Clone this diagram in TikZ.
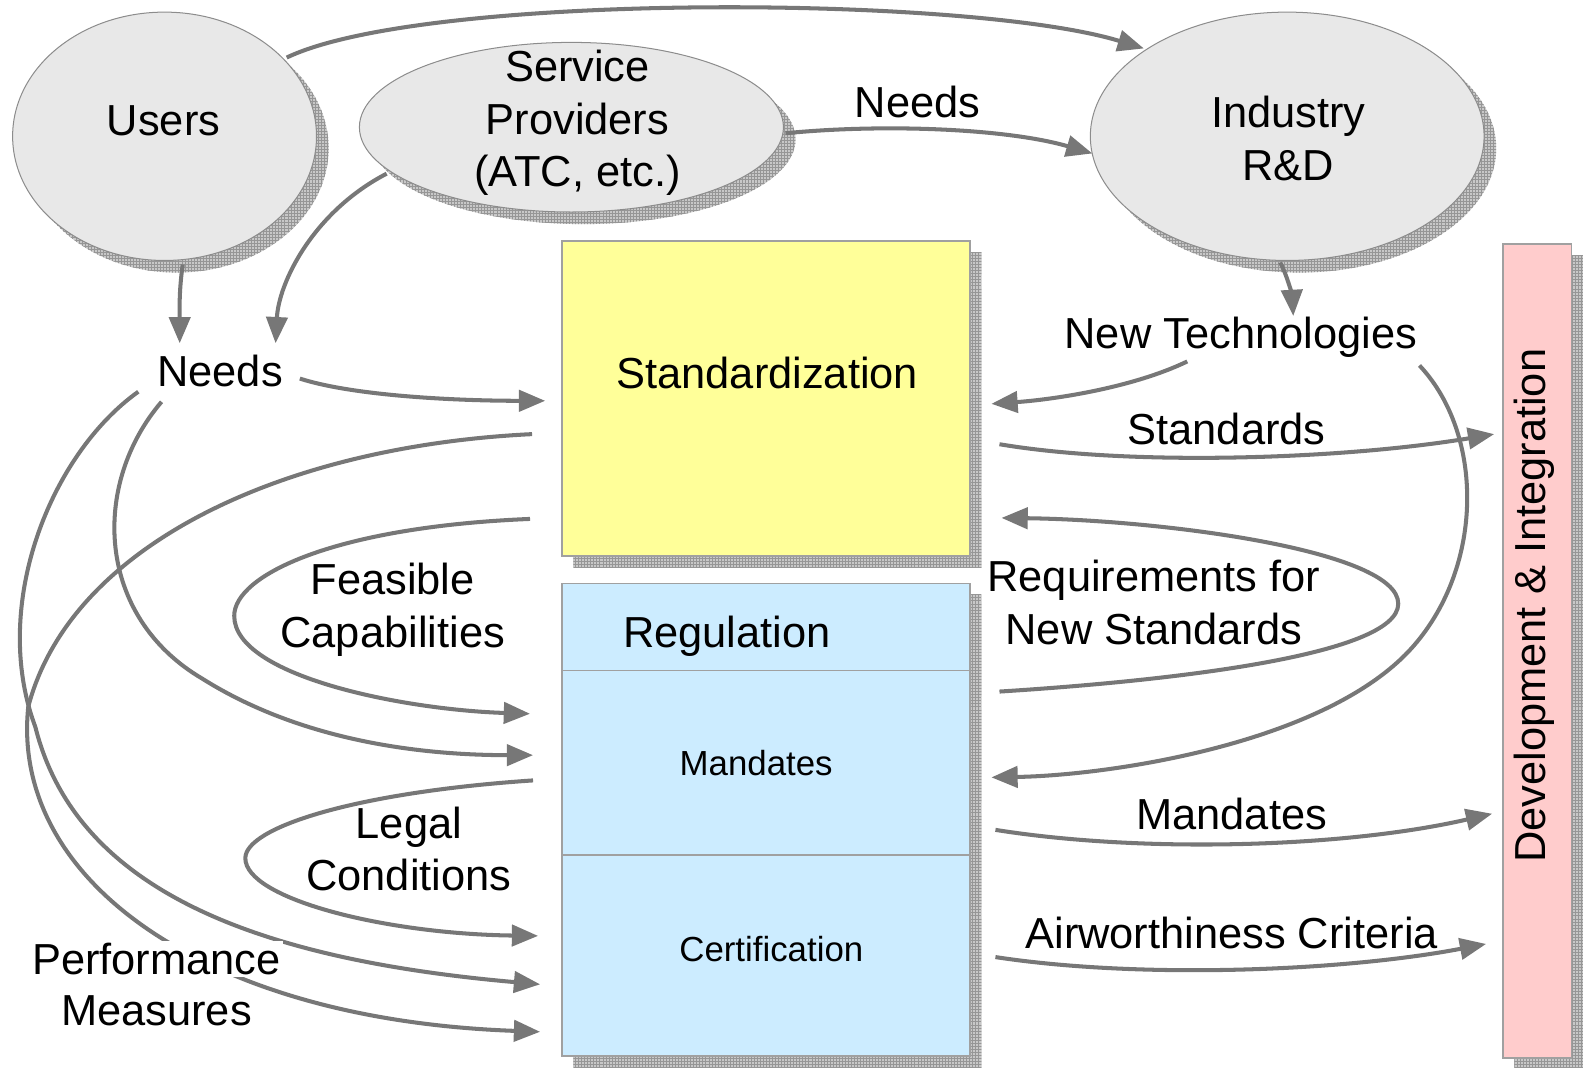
\documentclass[tikz,border=0pt]{standalone}
\usepackage{fontspec}
\setmainfont{Liberation Sans}
\usetikzlibrary{arrows.meta,shapes.geometric,patterns}
\definecolor{arrgray}{RGB}{119,119,119}
\definecolor{ellfill}{RGB}{232,232,232}
\definecolor{ellline}{RGB}{140,140,140}
\definecolor{boxline}{RGB}{160,160,160}
\definecolor{stdyellow}{RGB}{255,255,153}
\definecolor{regblue}{RGB}{204,236,255}
\definecolor{devpink}{RGB}{255,204,204}
\definecolor{shdfill}{RGB}{200,200,200}
\definecolor{shdgrid}{RGB}{150,150,150}
\begin{document}
\begin{tikzpicture}[x=1pt,y=-1pt,
  arr/.style={draw=arrgray, line width=4pt, -{Triangle[length=26pt,width=21pt]}},
  shd/.style={fill=shdfill, postaction={pattern=grid, pattern color=shdgrid}},
  ell/.style={ellipse, draw=ellline, line width=1pt, fill=ellfill, inner sep=0pt},
  box/.style={rectangle, draw=boxline, line width=1.5pt, inner sep=0pt, anchor=north west},
  big/.style={font=\fontsize{43}{52}\selectfont, inner sep=0pt, align=center},
  small/.style={font=\fontsize{34.5}{42}\selectfont, inner sep=0pt, align=center}]
\useasboundingbox (0,0) rectangle (1568,1057);

% shadows
\path[shd] (175,147) ellipse [x radius=150.5pt, y radius=123pt];
\path[shd] (578,138) ellipse [x radius=210pt, y radius=84pt];
\path[shd] (1287,147) ellipse [x radius=195pt, y radius=123pt];
\path[shd] (568,250) rectangle (972,562);
\path[shd] (568,589) rectangle (972,1057);
\path[shd] (1500,253) rectangle (1568,1057);

% ellipses
\node[ell, minimum width=301pt, minimum height=246pt] (users) at (163,135) {};
\node[ell, minimum width=420pt, minimum height=168pt] (sp) at (566,126) {};
\node[ell, minimum width=390pt, minimum height=246pt] (ind) at (1275,135) {};

% boxes
\node[box, fill=stdyellow, minimum width=404pt, minimum height=312pt] (std) at (556,238) {};
\node[box, fill=regblue, minimum width=404pt, minimum height=468pt] (reg) at (556,577) {};
\draw[draw=boxline, line width=1.5pt] (reg.west |- 0,664) coordinate (d1) -- (reg.east |- 0,664) coordinate (d2);
\draw[draw=boxline, line width=1.5pt] (reg.west |- 0,847) coordinate (d3) -- (reg.east |- 0,847) coordinate (d4);
\node[box, fill=devpink, minimum width=68pt, minimum height=806pt] (dev) at (1488,241) {};

% texts in shapes
\node[big] (tusers) at (162,120) {Users};
\node[big] (tsp) at (572,122) {Service\\Providers\\(ATC, etc.)};
\node[big] (tind) at (1276,137) {Industry\\R\&D};
\node[big] (tstd) at (760,369) {Standardization};
\node[big] (treg) at (720,630) {Regulation};
\node[small] (tman) at (749,756) {Mandates};
\node[small] (tcert) at (764,940) {Certification};
\node[big, rotate=90] (tdev) at (1520,600) {Development \& Integration};

% free labels
\node[big] (needsTop) at (909,101) {Needs};
\node[big] (needs) at (218,367) {Needs};
\node[big] (newtech) at (1229,334) {New Technologies};
\node[big] (lstd) at (1215,425) {Standards};
\node[big] (lreq) at (1143,597) {Requirements for\\New Standards};
\node[big] (lman) at (1220,806) {Mandates};
\node[big] (lair) at (1220,924) {Airworthiness Criteria};
\node[big] (lfeas) at (389,604) {Feasible\\Capabilities};
\node[big] (llegal) at (405,841) {Legal\\Conditions};

% connector end points
\coordinate (u1) at (284,57);
\coordinate (i1) at (1133,48);
\coordinate (sp1) at (778,132);
\coordinate (i2) at (1082,152);
\coordinate (u2) at (181,262);
\coordinate (n1) at (178,340);
\coordinate (sp2) at (383,172);
\coordinate (n2) at (273,340);
\coordinate (i3) at (1268,260);
\coordinate (nt1) at (1281,313);
\coordinate (n3) at (297,375);
\coordinate (s1) at (540,397);
\coordinate (nt2) at (1176,358);
\coordinate (s2) at (982,400);
\coordinate (s3) at (990,440);
\coordinate (dv1) at (1480,430);
\coordinate (nt3) at (1406,362);
\coordinate (m1) at (982,770);
\coordinate (r1) at (990,685);
\coordinate (s4) at (992,513);
\coordinate (m2) at (986,822);
\coordinate (dv2) at (1478,806);
\coordinate (c1) at (986,948);
\coordinate (dv3) at (1472,935);
\coordinate (s5) at (525,514);
\coordinate (r2) at (525,707);
\coordinate (n4) at (160,398);
\coordinate (m3) at (528,748);
\coordinate (m4) at (528,773);
\coordinate (c2) at (533,927);
\coordinate (n5) at (137,388);
\coordinate (c3) at (535,975);
\coordinate (s6) at (527,430);
\coordinate (c4) at (535,1022);

% connectors
\draw[arr] (u1) .. controls (420,-8) and (960,-5) .. (i1);
\draw[arr] (sp1) .. controls (880,122) and (1000,128) .. (i2);
\draw[arr] (u2) .. controls (177,290) and (178,310) .. (n1);
\draw[arr] (sp2) .. controls (310,210) and (276,280) .. (n2);
\draw[arr] (i3) .. controls (1276,275) and (1280,295) .. (nt1);
\draw[arr] (n3) .. controls (350,392) and (450,397) .. (s1);
\draw[arr] (nt2) .. controls (1120,385) and (1040,396) .. (s2);
\draw[arr] (s3) .. controls (1120,462) and (1330,455) .. (dv1);
\draw[arr] (nt3) .. controls (1470,430) and (1470,560) .. (1400,640) .. controls (1316,736) and (1100,768) .. (m1);
\draw[arr] (r1) .. controls (1150,675) and (1385,650) .. (1385,598) .. controls (1385,545) and (1150,515) .. (s4);
\draw[arr] (m2) .. controls (1130,845) and (1330,840) .. (dv2);
\draw[arr] (c1) .. controls (1130,970) and (1330,962) .. (dv3);
\draw[arr] (s5) .. controls (330,522) and (232,570) .. (232,610) .. controls (232,670) and (400,703) .. (r2);
\draw[arr] (n4) .. controls (90,480) and (95,610) .. (200,672) .. controls (300,735) and (420,748) .. (m3);
\draw[arr] (m4) .. controls (350,785) and (243,820) .. (243,850) .. controls (243,890) and (380,925) .. (c2);
\draw[arr] (n5) .. controls (50,450) and (-10,600) .. (35,720) .. controls (75,880) and (250,950) .. (c3);
\draw[arr] (s6) .. controls (280,442) and (70,540) .. (28,700) .. controls (10,870) and (200,1010) .. (c4);

% performance measures label
\node[big, fill=white, inner sep=2pt] (lperf) at (155,950) {Performance};
\node[big] (lmeas) at (155,1001) {Measures};
\end{tikzpicture}
\end{document}
